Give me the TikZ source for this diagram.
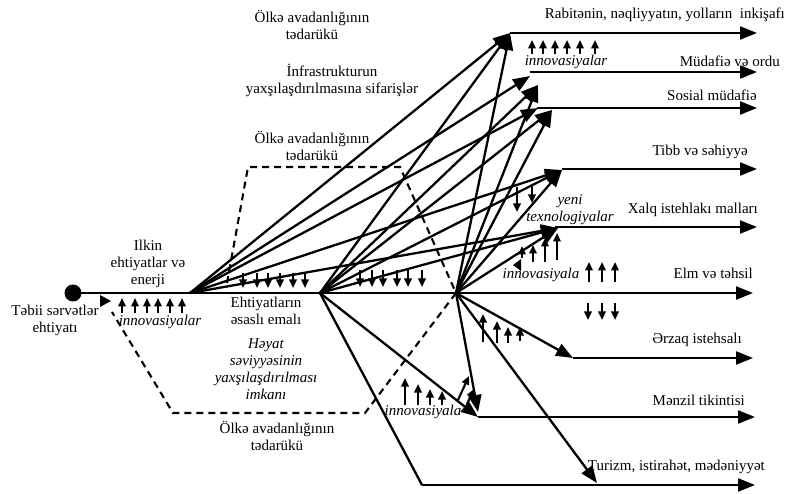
\documentclass[tikz,border=0pt]{standalone}
\usepackage{fontspec}
\setmainfont{Liberation Serif}
\usetikzlibrary{arrows.meta}
\begin{document}
\begin{tikzpicture}[x=1pt,y=-1pt,
  flow/.style={line width=2.3pt},
  big/.style={line width=2.3pt,-{Triangle[length=17pt,width=13pt]}},
  inn/.style={line width=2.1pt,-{Triangle[length=8.5pt,width=7.5pt]}},
  dsh/.style={line width=2.1pt,dash pattern=on 7pt off 5pt},
  lbl/.style={font=\fontsize{15}{17}\selectfont,inner sep=0pt,align=center},
  ilbl/.style={font=\fontsize{15}{17}\selectfont\itshape,inner sep=0pt,align=center},
  rl/.style={lbl,anchor=east},
]
\useasboundingbox (0,0) rectangle (787,494);
% hubs
\coordinate (n0) at (73,293);
\coordinate (n1) at (190,293);
\coordinate (n2) at (320,293);
\coordinate (n3) at (456,293);
% targets
\coordinate (t1) at (510,33);
\coordinate (t2a) at (530,76);
\coordinate (t2b) at (538,85);
\coordinate (t3a) at (538,108);
\coordinate (t3b) at (552,110);
\coordinate (t4) at (562,170);
\coordinate (t5) at (558,228);
\coordinate (s2) at (530,72);
\coordinate (s3) at (537,108);
\coordinate (s4) at (562,169);
\coordinate (s5) at (555,227);
\coordinate (s6) at (573,358);
\coordinate (s7) at (478,417);
\coordinate (s8) at (422,485);
\coordinate (e1) at (757,33);
\coordinate (e2) at (757,72);
\coordinate (e3) at (757,108);
\coordinate (e4) at (757,169);
\coordinate (e5) at (757,227);
\coordinate (e6) at (753,293);
\coordinate (e7) at (753,358);
\coordinate (e8) at (755,417);
\coordinate (e9) at (755,485);
\coordinate (tur) at (597,483);
\coordinate (mz) at (478,412);

% dashed outline
\draw[dsh] (227,283) -- (248,167) -- (400,167) -- (n3) -- (365,413) -- (173,413) -- (112,312);

% main horizontal
\fill (n0) circle (8.5pt);
\draw[big] (n0) -- (e6);
\fill (100,295) -- (111,301) -- (100,307) -- cycle;

% horizontal outputs
\draw[big] (t1) -- (e1);
\draw[big] (s2) -- (e2);
\draw[big] (s3) -- (e3);
\draw[big] (s4) -- (e4);
\draw[big] (s5) -- (e5);
\draw[big] (s6) -- (e7);
\draw[big] (s7) -- (e8);
\draw[big] (s8) -- (e9);

% fans
\foreach \t in {t1,t2a,t3a,t4,t5} \draw[big] (n1) -- (\t);
\foreach \t in {t1,t2b,t3b,t4,t5} \draw[big] (n2) -- (\t);
\foreach \t in {t1,t2b,t3b,t4,t5} \draw[big] (n3) -- (\t);
\draw[big] (n3) -- (s6);
\draw[big] (n3) -- (tur);
\draw[big] (n3) -- (mz);
\draw[big] (n2) -- (s7);
\draw[flow] (n2) -- (s8);

% innovation arrows
\foreach \x in {122,135,147,158,170,182} \draw[inn] (\x,313) -- (\x,298);
\foreach \x in {243,257,268,280,293,305} \draw[inn] (\x,273) -- (\x,288);
\foreach \x in {360,372,383,397,408,422} \draw[inn] (\x,270) -- (\x,287);
\foreach \x in {532,543,555,567,580,595} \draw[inn] (\x,54) -- (\x,40);
\draw[inn] (517,187) -- (517,212);
\draw[inn] (532,185) -- (532,203);
\draw[inn] (522,258) -- (522,246);
\draw[inn] (533,262) -- (533,245);
\draw[inn] (545,262) -- (545,238);
\draw[inn] (557,260) -- (557,233);
\fill (513,265) -- (521,259) -- (521,271) -- cycle;
\foreach \x in {589,602,615} \draw[inn] (\x,282) -- (\x,262);
\foreach \x in {588,602,615} \draw[inn] (\x,303) -- (\x,320);
\draw[inn] (483,342) -- (483,314);
\draw[inn] (497,343) -- (497,321);
\draw[inn] (508,343) -- (508,327);
\draw[inn] (520,341) -- (520,327);
\draw[inn] (405,405) -- (405,378);
\draw[inn] (418,405) -- (418,384);
\draw[inn] (430,405) -- (430,389);
\draw[inn] (442,405) -- (442,391);
\draw[inn] (458,400) -- (469,376);
\draw[inn] (467,404) -- (474,389);

% labels
\node[lbl] (tebii) at (55,320) {Təbii sərvətlər\\ehtiyatı};
\node[lbl] (ilkin) at (148,264) {Ilkin\\ehtiyatlar və\\enerji};
\node[ilbl] (inn1) at (160,322) {innovasiyalar};
\node[lbl] (emal) at (266,311) {Ehtiyatların\\əsaslı emalı};
\node[ilbl] (heyat) at (266,369) {Həyat\\səviyyəsinin\\yaxşılaşdırılması\\imkanı};
\node[lbl] (olke3) at (277,436) {Ölkə avadanlığının\\tədarükü};
\node[lbl] (olke1) at (312,25) {Ölkə avadanlığının\\tədarükü};
\node[lbl] (infra) at (332,80) {İnfrastrukturun\\yaxşılaşdırılmasına sifarişlər};
\node[lbl] (olke2) at (312,146) {Ölkə avadanlığının\\tədarükü};
\node[rl] (rab) at (785,15) {Rabitənin, nəqliyyatın, yolların\ \ inkişafı};
\node[ilbl] (inn2) at (566,62) {innovasiyalar};
\node[rl] (mud) at (780,61) {Müdafiə və ordu};
\node[rl] (sos) at (757,95) {Sosial müdafiə};
\node[rl] (tibb) at (748,152) {Tibb və səhiyyə};
\node[ilbl] (yeni) at (570,210) {yeni\\texnologiyalar};
\node[rl] (xalq) at (758,210) {Xalq istehlakı malları};
\node[ilbl] (inn3) at (541,275) {innovasiyala};
\node[rl] (elm) at (753,273) {Elm və təhsil};
\node[rl] (erzaq) at (742,340) {Ərzaq istehsalı};
\node[rl] (menzil) at (745,400) {Mənzil tikintisi};
\node[ilbl] (inn4) at (423,412) {innovasiyala};
\node[rl] (turizm) at (765,467) {Turizm, istirahət, mədəniyyət};
\end{tikzpicture}
\end{document}
